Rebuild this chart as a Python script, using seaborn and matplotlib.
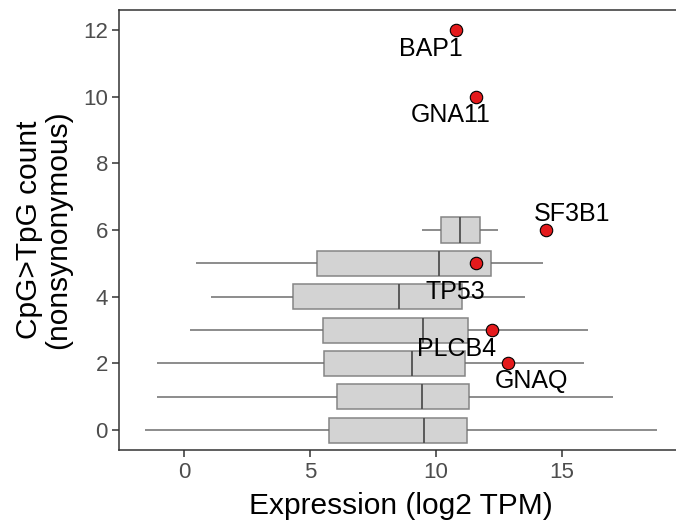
import numpy as np
import pandas as pd
import matplotlib
matplotlib.use("Agg")
import matplotlib.pyplot as plt
import seaborn as sns

# Box summaries per CpG>TpG count (whisker low, Q1, median, Q3, whisker high)
counts = [0, 1, 2, 3, 4, 5, 6]
whisker_low = [-1.53, -1.06, -1.09, 0.25, 1.06, 0.48, 9.46]
q1 = [5.76, 6.06, 5.55, 5.52, 4.32, 5.28, 10.21]
median = [9.52, 9.46, 9.04, 9.48, 8.53, 10.13, 10.97]
q3 = [11.22, 11.30, 11.16, 11.27, 11.05, 12.18, 11.73]
whisker_high = [18.78, 17.04, 15.87, 16.02, 13.52, 14.25, 12.46]

# Highlighted genes
genes = ["BAP1", "GNA11", "SF3B1", "TP53", "PLCB4", "GNAQ"]
gene_expr = [10.79, 11.59, 14.35, 11.57, 12.24, 12.86]
gene_count = [12, 10, 6, 5, 3, 2]

# label offsets (layout only)
label_dx = [-1.0, -1.0, 1.06, -0.79, -1.42, 0.94]
label_dy = [-0.56, -0.55, 0.48, -0.85, -0.58, -0.52]

rows = []
for c, a, b, m, d, e in zip(counts, whisker_low, q1, median, q3, whisker_high):
    for v in (a, b, m, d, e):
        rows.append({"count": c, "expr": v})
df = pd.DataFrame(rows)
pts = pd.DataFrame({"gene": genes, "expr": gene_expr, "count": gene_count})

sns.set_style("white")
plt.rcParams["font.family"] = ["Liberation Sans", "DejaVu Sans"]

fig = plt.figure(figsize=(6.76, 5.2), dpi=100)
ax = fig.add_axes([119 / 676, 70 / 520, 564 / 676, 440 / 520])

sns.boxplot(data=df, x="expr", y="count", orient="h", native_scale=True,
            whis=(0, 100), width=0.75, color="#D3D3D3", saturation=1,
            linecolor="#858585", linewidth=1.1, fliersize=0, ax=ax,
            medianprops={"color": "#505050", "linewidth": 1.3},
            whiskerprops={"color": "#6e6e6e", "linewidth": 1.1},
            capprops={"linewidth": 0})

sns.scatterplot(data=pts, x="expr", y="count", color="#E41A1C",
                edgecolor="black", linewidth=0.8, s=80, zorder=5, ax=ax,
                legend=False)

for g, xv, yv, dx, dy in zip(genes, gene_expr, gene_count, label_dx, label_dy):
    ax.text(xv + dx, yv + dy, g, fontsize=18, ha="center", va="center",
            color="black", zorder=6)

ax.set_xlim(-2.58, 19.8)
ax.set_ylim(-0.6, 12.6)
ax.set_xticks([0, 5, 10, 15])
ax.set_yticks([0, 2, 4, 6, 8, 10, 12])
ax.set_xticklabels(["0", "5", "10", "15"])
ax.set_yticklabels(["0", "2", "4", "6", "8", "10", "12"])

for side in ["left", "bottom", "top"]:
    ax.spines[side].set_visible(True)
    ax.spines[side].set_color("#333333")
    ax.spines[side].set_linewidth(1.1)
ax.spines["right"].set_visible(False)

ax.tick_params(axis="both", which="major", length=5, width=1.1,
               color="#333333", labelsize=16, labelcolor="#4D4D4D",
               left=True, bottom=True)
ax.tick_params(axis="x", pad=4)
ax.tick_params(axis="y", pad=3)

ax.set_xlabel("Expression (log2 TPM)", fontsize=21.5, color="black", labelpad=6)
ax.set_ylabel("CpG>TpG count\n(nonsynonymous)", fontsize=21.5, color="black",
              labelpad=8, linespacing=1.05)
ax.grid(False)

fig.savefig("out.png", dpi=100)
